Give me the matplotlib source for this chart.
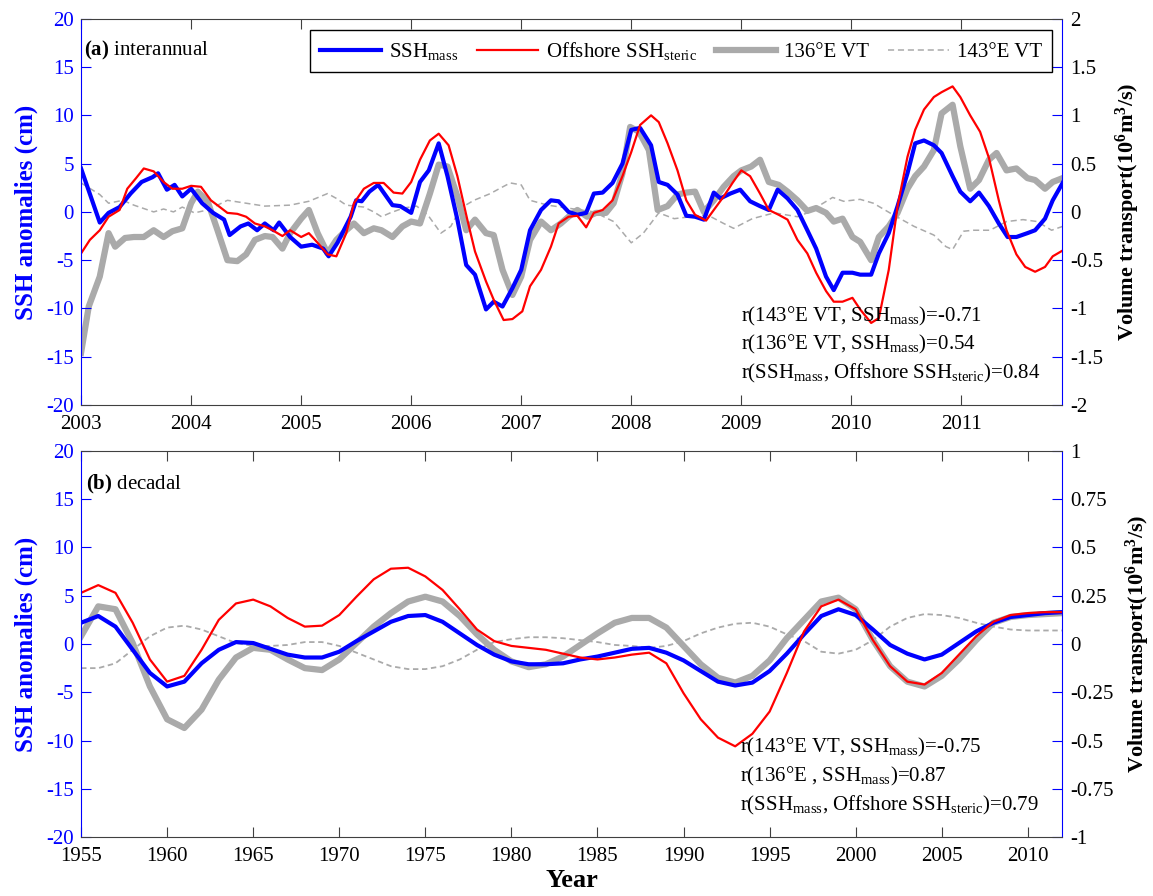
import numpy as np
import matplotlib
matplotlib.use('Agg')
import matplotlib.pyplot as plt
from matplotlib.lines import Line2D

plt.rcParams['font.family'] = ['Liberation Serif', 'DejaVu Serif']
plt.rcParams['mathtext.fontset'] = 'custom'
plt.rcParams['mathtext.rm'] = 'Liberation Serif'
plt.rcParams['mathtext.it'] = 'Liberation Serif:italic'
plt.rcParams['mathtext.bf'] = 'Liberation Serif:bold'
plt.rcParams['axes.unicode_minus'] = False

# ---------------- panel (a) interannual, 2003-2011 ----------------
mass_a_t = [2003.00, 2003.17, 2003.25, 2003.35, 2003.45, 2003.55, 2003.65, 2003.70, 2003.78, 2003.85,
            2003.92, 2004.00, 2004.10, 2004.20, 2004.30, 2004.35, 2004.45, 2004.52, 2004.60, 2004.67,
            2004.75, 2004.80, 2004.90, 2005.00, 2005.10, 2005.20, 2005.25, 2005.33, 2005.45, 2005.50,
            2005.55, 2005.62, 2005.70, 2005.83, 2005.90, 2006.00, 2006.08, 2006.16, 2006.25, 2006.33,
            2006.42, 2006.50, 2006.58, 2006.68, 2006.75, 2006.83, 2006.92, 2007.00, 2007.08, 2007.18,
            2007.27, 2007.34, 2007.43, 2007.51, 2007.59, 2007.66, 2007.74, 2007.83, 2007.92, 2008.00,
            2008.08, 2008.18, 2008.25, 2008.33, 2008.42, 2008.50, 2008.58, 2008.66, 2008.75, 2008.81,
            2008.90, 2008.99, 2009.08, 2009.17, 2009.25, 2009.33, 2009.42, 2009.51, 2009.60, 2009.68,
            2009.77, 2009.84, 2009.92, 2010.01, 2010.08, 2010.18, 2010.25, 2010.34, 2010.42, 2010.51,
            2010.58, 2010.66, 2010.75, 2010.82, 2010.92, 2010.99, 2011.08, 2011.16, 2011.25, 2011.34,
            2011.42, 2011.50, 2011.60, 2011.67, 2011.76, 2011.83, 2011.92]
mass_a = [4.5, -1.1, -0.1, 0.5, 1.9, 3.1, 3.6, 4.0, 2.3, 2.8,
          1.6, 2.4, 0.9, -0.1, -0.8, -2.4, -1.5, -1.2, -1.9, -1.2,
          -1.9, -1.1, -2.6, -3.6, -3.4, -3.8, -4.6, -3.2, -0.5, 1.2,
          1.1, 2.1, 2.8, 0.7, 0.6, -0.1, 3.1, 4.3, 7.1, 3.7,
          -0.8, -5.5, -6.5, -10.1, -9.3, -9.8, -7.9, -6.0, -1.9, 0.2,
          1.2, 1.1, 0.0, -0.3, -0.1, 1.9, 2.0, 3.0, 5.0, 8.5,
          8.7, 6.9, 3.1, 2.8, 1.8, -0.4, -0.5, -0.8, 2.0, 1.4,
          1.9, 2.3, 1.1, 0.6, 0.2, 2.3, 1.4, 0.2, -1.9, -3.8,
          -6.7, -8.1, -6.3, -6.3, -6.5, -6.5, -4.3, -2.2, 0.6, 4.0,
          7.1, 7.4, 6.9, 6.1, 3.7, 2.1, 1.1, 2.0, 0.6, -1.2,
          -2.6, -2.6, -2.2, -1.9, -0.7, 1.2, 3.0]

steric_a_t = [2003.00, 2003.08, 2003.17, 2003.25, 2003.35, 2003.42, 2003.50, 2003.57, 2003.66, 2003.75,
              2003.83, 2003.92, 2004.00, 2004.09, 2004.18, 2004.25, 2004.33, 2004.42, 2004.50, 2004.58,
              2004.67, 2004.74, 2004.83, 2004.90, 2005.00, 2005.07, 2005.15, 2005.24, 2005.32, 2005.41,
              2005.48, 2005.57, 2005.66, 2005.75, 2005.84, 2005.92, 2006.00, 2006.08, 2006.17, 2006.25,
              2006.34, 2006.42, 2006.51, 2006.58, 2006.68, 2006.75, 2006.84, 2006.92, 2007.01, 2007.08,
              2007.18, 2007.27, 2007.34, 2007.43, 2007.51, 2007.59, 2007.66, 2007.74, 2007.83, 2007.92,
              2008.00, 2008.08, 2008.18, 2008.25, 2008.33, 2008.42, 2008.50, 2008.58, 2008.68, 2008.75,
              2008.84, 2008.92, 2009.00, 2009.08, 2009.17, 2009.25, 2009.34, 2009.42, 2009.51, 2009.60,
              2009.68, 2009.77, 2009.84, 2009.92, 2010.01, 2010.08, 2010.18, 2010.25, 2010.34, 2010.42,
              2010.51, 2010.58, 2010.66, 2010.75, 2010.82, 2010.92, 2010.99, 2011.08, 2011.17, 2011.25,
              2011.34, 2011.41, 2011.50, 2011.58, 2011.67, 2011.76, 2011.83, 2011.92]
steric_a = [-4.3, -2.9, -1.9, -0.5, 0.2, 2.4, 3.5, 4.5, 4.2, 3.1,
            2.4, 2.4, 2.7, 2.6, 1.2, 0.6, -0.1, -0.2, -0.5, -1.2,
            -1.5, -1.9, -2.5, -1.9, -2.6, -2.2, -3.2, -4.4, -4.6, -2.2,
            0.9, 2.4, 3.0, 3.0, 2.0, 1.9, 3.1, 5.4, 7.4, 8.1,
            6.9, 3.7, -0.8, -4.1, -7.2, -9.1, -11.2, -11.1, -10.3, -7.7,
            -6.0, -3.6, -1.2, -0.5, -0.4, -1.6, -0.1, 0.2, 1.2, 3.7,
            6.2, 9.0, 10.0, 9.3, 7.1, 4.3, 1.2, -0.3, -0.9, 0.2,
            1.6, 3.0, 4.3, 3.7, 1.9, 0.2, -0.3, -0.8, -2.9, -4.3,
            -6.3, -8.2, -9.3, -9.3, -8.9, -10.1, -11.5, -11.0, -6.0, 0.6,
            5.7, 8.5, 10.6, 11.9, 12.4, 13.0, 11.9, 10.0, 8.3, 5.6,
            1.2, -1.9, -4.4, -5.7, -6.2, -5.7, -4.6, -4.0]

vt136_a_t = [2003.00, 2003.07, 2003.17, 2003.25, 2003.31, 2003.40, 2003.48, 2003.57, 2003.66, 2003.75,
             2003.83, 2003.92, 2004.00, 2004.06, 2004.15, 2004.24, 2004.33, 2004.42, 2004.50, 2004.58,
             2004.67, 2004.74, 2004.83, 2004.90, 2005.00, 2005.07, 2005.15, 2005.24, 2005.32, 2005.41,
             2005.48, 2005.57, 2005.66, 2005.73, 2005.83, 2005.92, 2006.00, 2006.08, 2006.17, 2006.25,
             2006.33, 2006.42, 2006.50, 2006.58, 2006.68, 2006.75, 2006.83, 2006.92, 2007.00, 2007.08,
             2007.18, 2007.27, 2007.36, 2007.43, 2007.51, 2007.60, 2007.68, 2007.77, 2007.84, 2007.92,
             2007.99, 2008.07, 2008.16, 2008.24, 2008.33, 2008.42, 2008.50, 2008.58, 2008.66, 2008.75,
             2008.84, 2008.93, 2009.00, 2009.09, 2009.17, 2009.25, 2009.34, 2009.42, 2009.51, 2009.60,
             2009.68, 2009.77, 2009.84, 2009.92, 2010.01, 2010.08, 2010.18, 2010.25, 2010.34, 2010.42,
             2010.51, 2010.58, 2010.66, 2010.75, 2010.82, 2010.92, 2010.99, 2011.08, 2011.16, 2011.25,
             2011.32, 2011.41, 2011.50, 2011.60, 2011.67, 2011.76, 2011.83, 2011.92]
vt136_a = [-1.46, -0.98, -0.67, -0.22, -0.36, -0.27, -0.26, -0.26, -0.19, -0.26,
           -0.20, -0.17, 0.09, 0.21, 0.11, -0.19, -0.50, -0.51, -0.44, -0.29,
           -0.25, -0.26, -0.38, -0.22, -0.07, 0.02, -0.22, -0.43, -0.29, -0.19,
           -0.12, -0.22, -0.17, -0.19, -0.26, -0.15, -0.10, -0.12, 0.19, 0.49,
           0.47, 0.16, -0.19, -0.08, -0.22, -0.24, -0.60, -0.86, -0.67, -0.29,
           -0.10, -0.19, -0.12, -0.05, 0.02, -0.05, -0.01, -0.01, 0.09, 0.40,
           0.88, 0.83, 0.64, 0.02, 0.06, 0.18, 0.20, 0.21, 0.00, 0.12,
           0.26, 0.37, 0.43, 0.47, 0.54, 0.31, 0.28, 0.21, 0.12, 0.01,
           0.04, -0.01, -0.10, -0.07, -0.26, -0.31, -0.50, -0.26, -0.15, -0.01,
           0.24, 0.37, 0.47, 0.64, 1.02, 1.11, 0.68, 0.24, 0.33, 0.54,
           0.61, 0.43, 0.45, 0.35, 0.33, 0.24, 0.31, 0.35]

vt143_a_t = [2003.00, 2003.17, 2003.25, 2003.38, 2003.48, 2003.66, 2003.75, 2003.84, 2003.92, 2004.03,
             2004.15, 2004.33, 2004.50, 2004.67, 2004.90, 2005.07, 2005.24, 2005.32, 2005.41, 2005.57,
             2005.66, 2005.73, 2005.81, 2005.93, 2006.05, 2006.15, 2006.27, 2006.36, 2006.45, 2006.57,
             2006.72, 2006.80, 2006.90, 2007.00, 2007.08, 2007.24, 2007.42, 2007.66, 2007.84, 2008.00,
             2008.11, 2008.25, 2008.39, 2008.54, 2008.69, 2008.84, 2008.93, 2009.10, 2009.30, 2009.51,
             2009.60, 2009.83, 2009.93, 2010.08, 2010.20, 2010.38, 2010.57, 2010.75, 2010.86, 2010.92,
             2011.02, 2011.11, 2011.26, 2011.41, 2011.56, 2011.69, 2011.82, 2011.92]
vt143_a = [0.30, 0.18, 0.09, 0.12, 0.07, 0.00, 0.03, 0.00, 0.05, -0.01,
           0.02, 0.12, 0.09, 0.06, 0.07, 0.11, 0.19, 0.14, 0.07, 0.05,
           0.00, -0.05, -0.01, 0.04, 0.06, -0.03, -0.22, -0.15, 0.04, 0.12,
           0.19, 0.24, 0.30, 0.28, 0.12, 0.07, 0.04, 0.00, -0.10, -0.32,
           -0.22, -0.01, -0.07, -0.05, -0.03, -0.12, -0.17, -0.07, -0.01, -0.05,
           -0.01, 0.15, 0.11, 0.13, 0.09, -0.03, -0.15, -0.24, -0.36, -0.39,
           -0.20, -0.19, -0.19, -0.10, -0.08, -0.10, -0.19, -0.15]

# ---------------- panel (b) decadal, 1955-2012 ----------------
years_b = np.arange(1955, 2013)
mass_b = [2.2, 2.9, 1.8, -0.6, -3.0, -4.4, -3.9, -2.0, -0.6, 0.2,
          0.1, -0.5, -1.1, -1.4, -1.4, -0.8, 0.3, 1.3, 2.3, 2.9,
          3.0, 2.3, 1.1, -0.1, -1.1, -1.8, -2.1, -2.1, -2.0, -1.6,
          -1.3, -0.9, -0.5, -0.4, -0.9, -1.7, -2.8, -3.9, -4.3, -4.0,
          -2.8, -1.0, 1.0, 2.9, 3.6, 3.0, 1.5, -0.1, -1.0, -1.6,
          -1.1, 0.1, 1.3, 2.2, 2.8, 3.0, 3.2, 3.3]
steric_b = [5.3, 6.1, 5.3, 2.2, -1.6, -3.9, -3.3, -0.6, 2.5, 4.2,
            4.6, 3.9, 2.7, 1.8, 1.9, 3.0, 4.9, 6.7, 7.8, 7.9,
            7.0, 5.6, 3.6, 1.5, 0.3, -0.2, -0.4, -0.6, -1.0, -1.4,
            -1.6, -1.4, -1.1, -0.9, -2.0, -5.1, -7.8, -9.7, -10.6, -9.3,
            -7.0, -3.0, 1.3, 3.9, 4.6, 3.6, 0.4, -2.3, -3.9, -4.2,
            -3.0, -1.1, 0.8, 2.3, 3.0, 3.2, 3.3, 3.3]
vt136_b = [0.04, 0.195, 0.18, 0.005, -0.22, -0.39, -0.435, -0.34, -0.185, -0.07,
           -0.02, -0.03, -0.08, -0.125, -0.135, -0.08, 0.005, 0.09, 0.16, 0.22,
           0.245, 0.22, 0.145, 0.05, -0.03, -0.09, -0.12, -0.105, -0.065, -0.005,
           0.055, 0.11, 0.135, 0.135, 0.085, -0.01, -0.105, -0.175, -0.2, -0.165,
           -0.085, 0.03, 0.125, 0.22, 0.24, 0.18, 0.02, -0.115, -0.195, -0.22,
           -0.165, -0.08, 0.02, 0.11, 0.14, 0.15, 0.155, 0.16]
vt143_b = [-0.125, -0.125, -0.1, -0.03, 0.04, 0.085, 0.095, 0.075, 0.04, 0.005,
           -0.01, -0.01, -0.005, 0.01, 0.01, -0.01, -0.045, -0.08, -0.115, -0.13,
           -0.13, -0.115, -0.08, -0.03, 0.01, 0.025, 0.035, 0.035, 0.03, 0.02,
           0.01, -0.005, -0.01, -0.02, -0.01, 0.015, 0.055, 0.085, 0.105, 0.11,
           0.09, 0.05, 0.015, -0.04, -0.05, -0.03, 0.02, 0.09, 0.135, 0.155,
           0.15, 0.135, 0.11, 0.09, 0.075, 0.07, 0.07, 0.07]

corr_a = [r'r(143°E VT, SSH$_{\mathrm{mass}}$)=-0.71',
          r'r(136°E VT, SSH$_{\mathrm{mass}}$)=0.54',
          r'r(SSH$_{\mathrm{mass}}$, Offshore SSH$_{\mathrm{steric}}$)=0.84']
corr_b = [r'r(143°E VT, SSH$_{\mathrm{mass}}$)=-0.75',
          r'r(136°E , SSH$_{\mathrm{mass}}$)=0.87',
          r'r(SSH$_{\mathrm{mass}}$, Offshore SSH$_{\mathrm{steric}}$)=0.79']

BLUE = '#0000ff'
RED = '#ff0000'
GREY = '#aaaaaa'
SPINE = '#404040'
FS = 15


def setup_panel(ax, ax2, xlim, xticks, vlim, vticks, vlabels):
    ax.set_zorder(ax2.get_zorder() + 1)
    ax.patch.set_visible(False)
    ax.set_xlim(*xlim)
    ax.set_ylim(-20, 20)
    ax.set_xticks(xticks)
    ax.set_xticklabels([str(t) for t in xticks])
    ax.set_yticks(np.arange(-20, 21, 5))
    ax.tick_params(axis='x', direction='in', length=7, top=True, labelsize=FS, color=SPINE, pad=7)
    ax.tick_params(axis='y', direction='in', length=7, labelsize=FS, colors=BLUE, pad=5)
    ax.spines['left'].set_color(BLUE)
    ax.spines['right'].set_visible(False)
    ax.spines['top'].set_color(SPINE)
    ax.spines['bottom'].set_color(SPINE)
    ax.set_ylabel('SSH anomalies (cm)', color=BLUE, fontsize=18, fontweight='bold', labelpad=6)
    ax2.set_ylim(*vlim)
    ax2.set_yticks(vticks)
    ax2.set_yticklabels(vlabels)
    ax2.tick_params(axis='y', direction='in', length=7, labelsize=FS, color=BLUE, pad=6)
    for s in ['left', 'top', 'bottom']:
        ax2.spines[s].set_visible(False)
    ax2.spines['right'].set_color(BLUE)
    ax2.set_ylabel(r'Volume transport(10$^{\mathbf{6}}$m$^{\mathbf{3}}$/s)', fontsize=16,
                   fontweight='bold', labelpad=7)


fig = plt.figure(figsize=(11.53, 8.96), dpi=100)
ax_a = fig.add_axes([0.0703, 0.548, 0.851, 0.431])
ax_a2 = ax_a.twinx()
ax_b = fig.add_axes([0.0703, 0.0658, 0.851, 0.4309])
ax_b2 = ax_b.twinx()

# panel a
ax_a2.plot(vt136_a_t, vt136_a, color=GREY, lw=4.5)
ax_a2.plot(vt143_a_t, vt143_a, color=GREY, lw=1.1, ls=(0, (4, 2.5)))
ax_a.plot(mass_a_t, mass_a, color=BLUE, lw=3)
ax_a.plot(steric_a_t, steric_a, color=RED, lw=1.6)
setup_panel(ax_a, ax_a2, (2003, 2011 + 11 / 12), list(range(2003, 2012)), (-2, 2),
            np.arange(-2, 2.01, 0.5), ['-2', '-1.5', '-1', '-0.5', '0', '0.5', '1', '1.5', '2'])
ax_a.text(2003.03, 16.2, r'$\mathbf{(a)}$ interannual', fontsize=FS)
for i, s in enumerate(corr_a):
    ax_a.text(2009.0, -11.3 - 3.0 * i, s, fontsize=FS)

handles = [Line2D([], [], color=BLUE, lw=3),
           Line2D([], [], color=RED, lw=1.6),
           Line2D([], [], color=GREY, lw=4.5),
           Line2D([], [], color=GREY, lw=1.1, ls=(0, (4, 2.5)))]
labels = [r'SSH$_{\mathrm{mass}}$', r'Offshore SSH$_{\mathrm{steric}}$', '136°E VT', '143°E VT']
leg = ax_a.legend(handles, labels, ncol=4, loc='upper right', bbox_to_anchor=(0.99, 0.972),
                  fontsize=FS, handlelength=2.9, columnspacing=0.9, handletextpad=0.4,
                  fancybox=False, framealpha=1, edgecolor='black', borderpad=0.5,
                  borderaxespad=0)
leg.get_frame().set_linewidth(1.0)

# panel b
ax_b2.plot(years_b, vt136_b, color=GREY, lw=4.5)
ax_b2.plot(years_b, vt143_b, color=GREY, lw=1.3, ls=(0, (3, 2)))
ax_b.plot(years_b, mass_b, color=BLUE, lw=3)
ax_b.plot(years_b, steric_b, color=RED, lw=1.6)
setup_panel(ax_b, ax_b2, (1955, 2012), list(range(1955, 2011, 5)), (-1, 1),
            np.arange(-1, 1.01, 0.25), ['-1', '-0.75', '-0.5', '-0.25', '0', '0.25', '0.5', '0.75', '1'])
ax_b.text(1955.3, 16.0, r'$\mathbf{(b)}$ decadal', fontsize=FS)
for i, s in enumerate(corr_b):
    ax_b.text(1993.3, -11.2 - 3.0 * i, s, fontsize=FS)
ax_b.set_xlabel('Year', fontsize=19, fontweight='bold', labelpad=2)

fig.savefig('out.png', dpi=100)
